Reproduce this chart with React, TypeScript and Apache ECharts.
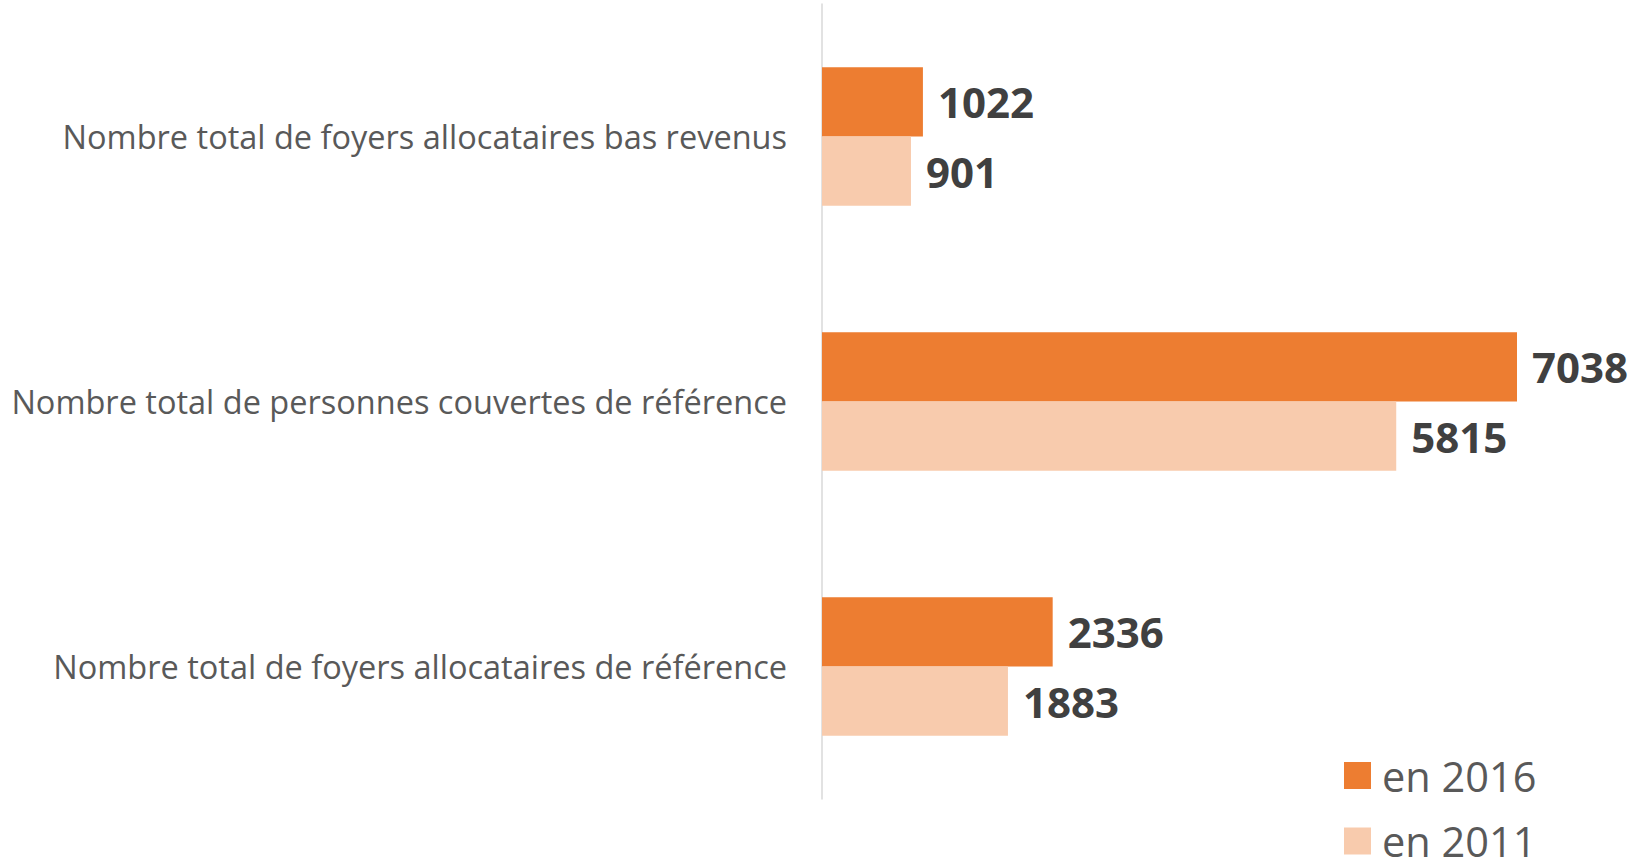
import React, { useEffect, useRef } from "react";
import * as echarts from "echarts";

const categories = [
  "Nombre total de foyers allocataires bas revenus",
  "Nombre total de personnes couvertes de référence",
  "Nombre total de foyers allocataires de référence",
];
const values2016 = [1022, 7038, 2336];
const values2011 = [901, 5815, 1883];
const seriesNames = ["en 2016", "en 2011"];

export default function App() {
  const ref = useRef<HTMLDivElement>(null);
  useEffect(() => {
    if (!ref.current) return;
    const chart = echarts.init(ref.current, null, { renderer: "svg" });
    const labelStyle = {
      show: true,
      position: "right",
      distance: 15,
      color: "#404040",
      fontFamily: "Open Sans",
      fontWeight: "bold",
      fontSize: 42,
    };
    const legendBase = {
      orient: "vertical",
      left: 1344,
      itemWidth: 27,
      itemHeight: 27,
      icon: "rect",
      padding: 0,
      textStyle: {
        color: "#595959",
        fontFamily: "Open Sans",
        fontSize: 41.5,
        lineHeight: 40,
        padding: [0, 0, 0, 6],
      },
    };
    chart.setOption({
      animation: false,
      backgroundColor: "#ffffff",
      grid: { left: 822, width: 790, top: 4, bottom: 66, containLabel: false },
      xAxis: {
        type: "value",
        min: 0,
        max: 8000,
        show: false,
        splitLine: { show: false },
      },
      yAxis: {
        type: "category",
        data: categories,
        inverse: true,
        axisLine: { show: true, lineStyle: { color: "#D9D9D9", width: 1.5 } },
        axisTick: { show: false },
        axisLabel: {
          margin: 35,
          color: "#595959",
          fontFamily: "Open Sans",
          fontSize: 32.5,
        },
      },
      legend: [
        { ...legendBase, top: 754.5, data: [seriesNames[0]] },
        { ...legendBase, top: 820, data: [seriesNames[1]] },
      ],
      series: [
        {
          name: seriesNames[0],
          type: "bar",
          data: values2016,
          barGap: "0%",
          barCategoryGap: "47.7%",
          itemStyle: { color: "#ED7D31" },
          label: labelStyle,
        },
        {
          name: seriesNames[1],
          type: "bar",
          data: values2011,
          barGap: "0%",
          barCategoryGap: "47.7%",
          itemStyle: { color: "#F8CBAD" },
          label: labelStyle,
        },
      ],
    });
    return () => chart.dispose();
  }, []);
  return (
    <div
      ref={ref}
      style={{ position: "fixed", left: 0, top: 0, width: 1642, height: 865 }}
    />
  );
}
